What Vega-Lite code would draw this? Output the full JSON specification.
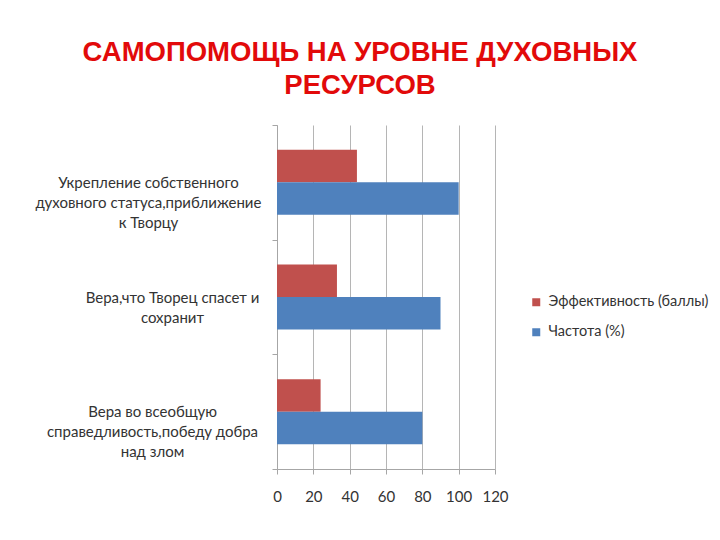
{
  "$schema": "https://vega.github.io/schema/vega-lite/v6.json",
  "width": 218,
  "height": 344,
  "autosize": "none",
  "padding": {"left": 277, "top": 125, "right": 225, "bottom": 71},
  "background": "white",
  "title": {
    "text": ["САМОПОМОЩЬ НА УРОВНЕ ДУХОВНЫХ", "РЕСУРСОВ"],
    "font": "Liberation Sans",
    "fontSize": 27.5,
    "fontWeight": "bold",
    "color": "#e20a0a",
    "lineHeight": 33,
    "anchor": "middle",
    "baseline": "bottom",
    "dx": -26,
    "dy": 35,
    "offset": 26
  },
  "data": {
    "values": [
      {"cat": "Укрепление собственного|духовного статуса,приближение|к Творцу", "series": "Эффективность (баллы)", "value": 44},
      {"cat": "Укрепление собственного|духовного статуса,приближение|к Творцу", "series": "Частота (%)", "value": 100},
      {"cat": "Вера,что Творец спасет и|сохранит", "series": "Эффективность (баллы)", "value": 33},
      {"cat": "Вера,что Творец спасет и|сохранит", "series": "Частота (%)", "value": 90},
      {"cat": "Вера во всеобщую|справедливость,победу добра|над злом", "series": "Эффективность (баллы)", "value": 24},
      {"cat": "Вера во всеобщую|справедливость,победу добра|над злом", "series": "Частота (%)", "value": 80}
    ]
  },
  "mark": {"type": "bar"},
  "encoding": {
    "y": {
      "field": "cat",
      "type": "nominal",
      "sort": null,
      "scale": {"paddingInner": 0, "paddingOuter": 0},
      "axis": {
        "title": null,
        "labelExpr": "split(datum.label, '|')",
        "labelFont": "Lato",
        "labelFontSize": 15,
        "labelColor": "#333333",
        "labelLineHeight": 20,
        "labelAlign": "center",
        "labelBaseline": "middle",
        "labelPadding": 120,
        "labelLimit": 400,
        "tickBand": "extent",
        "tickSize": 5,
        "tickColor": "#a6a6a6",
        "domainColor": "#a6a6a6",
        "grid": false,
        "encoding": {
          "labels": {
            "dx": {"value": {"expr": "datum.value == 'Вера,что Творец спасет и|сохранит' ? 20 : (datum.value == 'Вера во всеобщую|справедливость,победу добра|над злом' ? 0 : -4)"}}
          }
        }
      }
    },
    "yOffset": {
      "field": "series",
      "type": "nominal",
      "sort": ["Эффективность (баллы)", "Частота (%)"],
      "scale": {"paddingInner": 0, "paddingOuter": 0.765}
    },
    "x": {
      "field": "value",
      "type": "quantitative",
      "scale": {"domain": [0, 120], "nice": false},
      "axis": {
        "title": null,
        "values": [0, 20, 40, 60, 80, 100, 120],
        "labelOverlap": false,
        "labelFlush": false,
        "labelFont": "Lato",
        "labelFontSize": 15,
        "labelColor": "#333333",
        "labelPadding": 15,
        "tickSize": 5,
        "tickColor": "#a6a6a6",
        "domainColor": "#a6a6a6",
        "grid": true,
        "gridColor": "#b5b5b5"
      }
    },
    "color": {
      "field": "series",
      "type": "nominal",
      "scale": {"domain": ["Эффективность (баллы)", "Частота (%)"], "range": ["#c0504d", "#4f81bd"]},
      "legend": {
        "title": null,
        "orient": "none",
        "legendX": 252,
        "legendY": 170,
        "symbolType": "square",
        "symbolSize": 64,
        "symbolStrokeWidth": 0,
        "labelFont": "Lato",
        "labelFontSize": 14.5,
        "labelColor": "#333333",
        "rowPadding": 15,
        "labelOffset": 5,
        "padding": 0
      }
    }
  },
  "config": {"view": {"stroke": null}}
}
